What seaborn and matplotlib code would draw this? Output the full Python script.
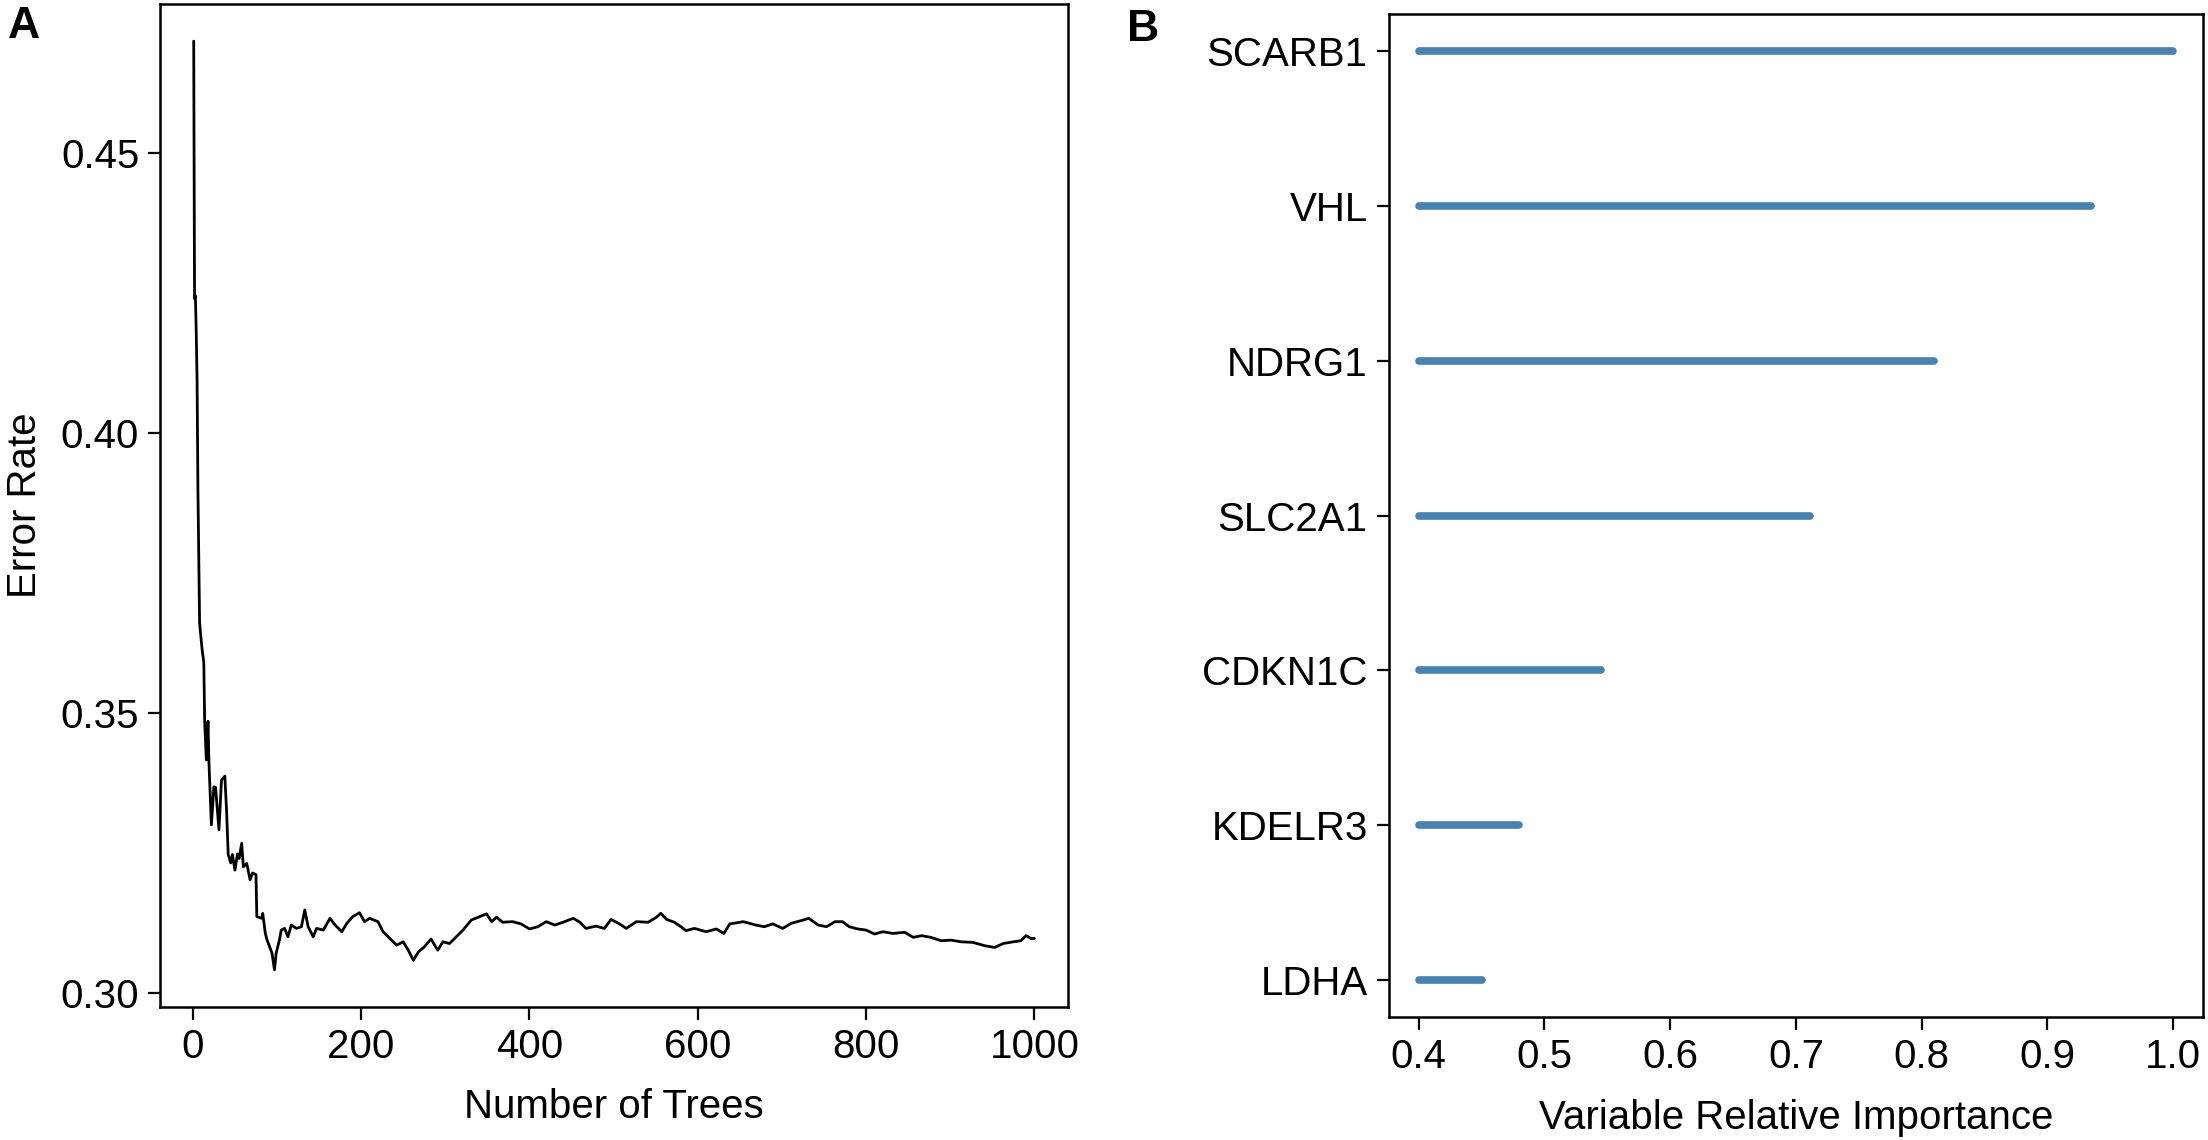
import numpy as np
import pandas as pd
import matplotlib
matplotlib.use("Agg")
import matplotlib.pyplot as plt
import seaborn as sns

# A: OOB error rate vs number of trees
trees = [1, 2, 3, 4, 5, 6, 8, 11, 13, 14, 16, 18, 19, 22, 25, 27, 31, 34, 38, 40,
         42, 45, 47, 50, 53, 55, 58, 60, 64, 68, 71, 75, 76, 82, 83, 86, 88, 91, 94,
         97, 99, 103, 105, 109, 113, 117, 123, 129, 133, 137, 143, 147, 155, 163,
         169, 177, 183, 190, 198, 204, 210, 220, 226, 234, 242, 250, 256, 262, 268,
         275, 283, 291, 297, 305, 313, 321, 331, 341, 349, 355, 361, 368, 380, 390,
         400, 410, 420, 430, 440, 452, 460, 467, 479, 489, 497, 507, 515, 527, 541,
         551, 556, 563, 572, 580, 586, 596, 610, 622, 631, 638, 654, 669, 679, 689,
         701, 711, 723, 732, 743, 753, 763, 772, 780, 790, 800, 810, 820, 832, 846,
         856, 866, 877, 889, 901, 913, 927, 941, 953, 963, 975, 984, 990, 996, 1000]
error_rate = [0.4700, 0.4240, 0.4245, 0.4180, 0.4095, 0.3900, 0.3660, 0.3613, 0.3590,
              0.3485, 0.3416, 0.3485, 0.3416, 0.3300, 0.3368, 0.3367, 0.3291, 0.3380,
              0.3387, 0.3327, 0.3247, 0.3232, 0.3247, 0.3219, 0.3248, 0.3240, 0.3267,
              0.3225, 0.3231, 0.3202, 0.3214, 0.3211, 0.3136, 0.3133, 0.3142, 0.3107,
              0.3095, 0.3083, 0.3071, 0.3041, 0.3071, 0.3095, 0.3112, 0.3115, 0.3100,
              0.3121, 0.3115, 0.3118, 0.3148, 0.3118, 0.3100, 0.3115, 0.3112, 0.3133,
              0.3121, 0.3109, 0.3124, 0.3136, 0.3143, 0.3127, 0.3133, 0.3127, 0.3109,
              0.3097, 0.3085, 0.3091, 0.3076, 0.3058, 0.3073, 0.3082, 0.3096, 0.3076,
              0.3091, 0.3088, 0.3100, 0.3112, 0.3130, 0.3136, 0.3141, 0.3127, 0.3135,
              0.3126, 0.3127, 0.3123, 0.3114, 0.3118, 0.3127, 0.3121, 0.3126, 0.3133,
              0.3126, 0.3115, 0.3119, 0.3115, 0.3131, 0.3123, 0.3115, 0.3127, 0.3126,
              0.3135, 0.3142, 0.3131, 0.3126, 0.3118, 0.3111, 0.3115, 0.3109, 0.3114,
              0.3106, 0.3123, 0.3127, 0.3121, 0.3118, 0.3123, 0.3115, 0.3124, 0.3129,
              0.3133, 0.3121, 0.3118, 0.3127, 0.3127, 0.3118, 0.3114, 0.3112, 0.3105,
              0.3109, 0.3106, 0.3108, 0.3099, 0.3102, 0.3099, 0.3093, 0.3094, 0.3091,
              0.3090, 0.3084, 0.3081, 0.3088, 0.3091, 0.3093, 0.3102, 0.3097, 0.3097]
err_ticks = [0.30, 0.35, 0.40, 0.45]
tree_ticks = [0, 200, 400, 600, 800, 1000]

# B: variable relative importance
genes = ["SCARB1", "VHL", "NDRG1", "SLC2A1", "CDKN1C", "KDELR3", "LDHA"]
importance = [1.0, 0.935, 0.81, 0.711, 0.545, 0.48, 0.45]
baseline = 0.4
imp_ticks = [0.4, 0.5, 0.6, 0.7, 0.8, 0.9, 1.0]

sns.set_style("ticks")
plt.rcParams["font.family"] = ["Liberation Sans", "DejaVu Sans"]
plt.rcParams["axes.linewidth"] = 1.8
plt.rcParams["xtick.major.width"] = 1.6
plt.rcParams["ytick.major.width"] = 1.6
plt.rcParams["xtick.major.size"] = 9
plt.rcParams["ytick.major.size"] = 9
plt.rcParams["xtick.major.pad"] = 6
plt.rcParams["ytick.major.pad"] = 6
plt.rcParams["axes.edgecolor"] = "black"
plt.rcParams["text.color"] = "black"
plt.rcParams["axes.labelcolor"] = "black"
plt.rcParams["xtick.color"] = "black"
plt.rcParams["ytick.color"] = "black"

fs = 29
fig = plt.figure(figsize=(22.08, 11.4), dpi=100)
ax1 = fig.add_axes([0.0725, 0.1167, 0.4112, 0.8798])
ax2 = fig.add_axes([0.6289, 0.1079, 0.3689, 0.8798])

# panel A
sns.lineplot(x=trees, y=error_rate, ax=ax1, color="black", linewidth=2.0,
             estimator=None, sort=False)
lo, hi = min(error_rate), max(error_rate)
ax1.set_ylim(lo - 0.04 * (hi - lo), hi + 0.04 * (hi - lo))
ax1.set_xlim(1 - 0.04 * 999, 1000 + 0.04 * 999)
ax1.set_yticks(err_ticks)
ax1.set_yticklabels([f"{t:.2f}" for t in err_ticks])
ax1.set_xticks(tree_ticks)
ax1.set_xticklabels([str(t) for t in tree_ticks])
ax1.set_xlabel("Number of Trees", fontsize=fs, labelpad=16)
ax1.set_ylabel("Error Rate", fontsize=fs)
ax1.yaxis.set_label_coords(-0.128, 0.5)
ax1.tick_params(labelsize=fs)

# panel B
pos = list(range(len(genes), 0, -1))
seg = pd.DataFrame({
    "gene": [g for g in genes for _ in range(2)],
    "x": [v for imp in importance for v in (baseline, imp)],
    "y": [p for p in pos for _ in range(2)],
})
sns.lineplot(data=seg, x="x", y="y", units="gene", estimator=None, sort=False,
             ax=ax2, color="#4682B4", linewidth=5.5, solid_capstyle="round")
ax2.set_xlim(0.4 - 0.04 * 0.6, 1.0 + 0.04 * 0.6)
ax2.set_ylim(1 - 0.04 * 6, 7 + 0.04 * 6)
ax2.set_yticks(pos)
ax2.set_yticklabels(genes)
ax2.set_xticks(imp_ticks)
ax2.set_xticklabels([f"{t:.1f}" for t in imp_ticks])
ax2.set_xlabel("Variable Relative Importance", fontsize=fs, labelpad=17)
ax2.set_ylabel("")
ax2.tick_params(labelsize=fs)

for ax in (ax1, ax2):
    for s in ax.spines.values():
        s.set_visible(True)
        s.set_linewidth(1.8)

fig.text(8 / 2208, 1 - 6 / 1140, "A", fontsize=32, fontweight="bold", va="top", ha="left")
fig.text(1127 / 2208, 1 - 9 / 1140, "B", fontsize=32, fontweight="bold", va="top", ha="left")

fig.savefig("out.png", dpi=100)
